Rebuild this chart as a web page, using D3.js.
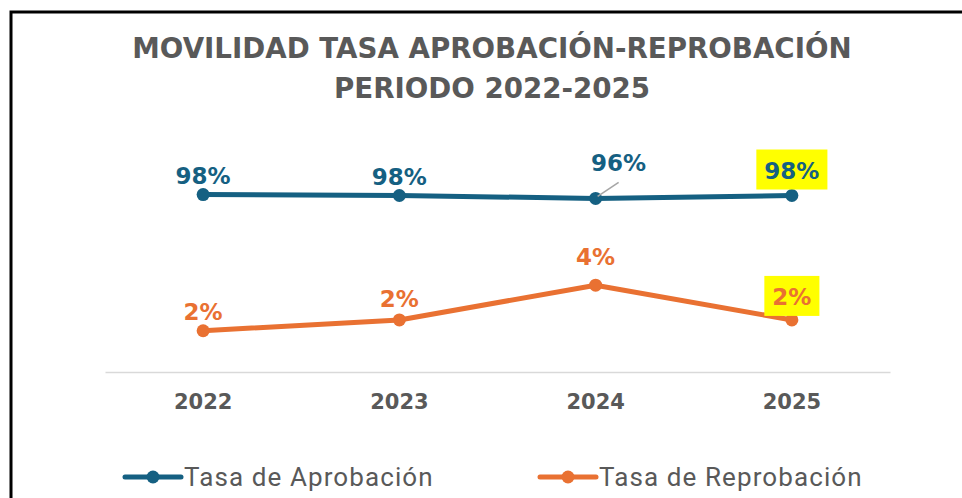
<!DOCTYPE html>
<html>
<head>
<meta charset="utf-8">
<script src="https://cdn.jsdelivr.net/npm/d3@7"></script>
<style>
  html, body { margin: 0; padding: 0; background: #fff; overflow: hidden; }
</style>
</head>
<body>
<svg id="chart" width="962" height="498"></svg>
<script>
// DATA
const years = ["2022", "2023", "2024", "2025"];
const aprobacion = [0.981, 0.976, 0.960, 0.976];
const reprobacion = [0.019, 0.024, 0.040, 0.024];
const titleLines = ["MOVILIDAD TASA APROBACIÓN-REPROBACIÓN", "PERIODO 2022-2025"];
const seriesNames = ["Tasa de Aprobación", "Tasa de Reprobación"];
// labels that were moved by hand in the original
const labelNudge = { "Tasa de Aprobación-2024": [23, -27], "Tasa de Aprobación-2025": [0, -17],
                     "Tasa de Reprobación-2023": [0, -13], "Tasa de Reprobación-2024": [0, -20],
                     "Tasa de Reprobación-2025": [0, -15] };
const highlighted = ["2025"];

const BLUE = "#156082", ORANGE = "#e97132", GREY = "#595959";

var svg = d3.select("#chart"),
  width = +svg.attr("width"),
  height = +svg.attr("height"),
  margin = { top: 155, right: 72, bottom: 126, left: 105 };

// outer frame (cut off at right and bottom, as in the screenshot)
svg.append("rect")
  .attr("x", 11).attr("y", 12)
  .attr("width", width + 20).attr("height", height + 20)
  .attr("fill", "none").attr("stroke", "#000").attr("stroke-width", 3);

var title = svg.append("text")
  .attr("text-anchor", "middle")
  .style("font-family", "DejaVu Sans")
  .style("font-weight", "bold")
  .style("font-size", "27.7px")
  .attr("fill", GREY);
title.selectAll("tspan").data(titleLines).enter().append("tspan")
  .attr("x", 492)
  .attr("y", function (d, i) { return 58 + i * 40; })
  .text(function (d) { return d; });

var x = d3.scaleBand().domain(years).range([margin.left, width - margin.right]);
var yA = d3.scaleLinear().domain([0, 1.2]).range([height - margin.bottom, margin.top]);
var yR = d3.scaleLinear().domain([0, 0.10]).range([height - margin.bottom, margin.top]);
var cx = function (d) { return x(d) + x.bandwidth() / 2; };

// x axis
var xAxis = svg.append("g")
  .attr("transform", "translate(0," + (height - margin.bottom) + ")")
  .call(d3.axisBottom(x).tickSize(0).tickPadding(22));
xAxis.select(".domain").attr("stroke", "#d9d9d9").attr("stroke-width", 1.5);
xAxis.selectAll("text")
  .style("font-family", "DejaVu Sans")
  .style("font-weight", "bold")
  .style("font-size", "21px")
  .attr("fill", GREY);

var series = [
  { name: seriesNames[0], values: aprobacion, y: yA, color: BLUE },
  { name: seriesNames[1], values: reprobacion, y: yR, color: ORANGE }
];

var fmt = d3.format(".0%");

series.forEach(function (s) {
  var pts = years.map(function (yr, i) { return { year: yr, v: s.values[i] }; });
  var line = d3.line()
    .x(function (d) { return cx(d.year); })
    .y(function (d) { return s.y(d.v); });

  svg.append("path").datum(pts)
    .attr("fill", "none").attr("stroke", s.color)
    .attr("stroke-width", 5).attr("stroke-linejoin", "round")
    .attr("d", line);

  svg.append("g").selectAll("circle").data(pts).enter().append("circle")
    .attr("cx", function (d) { return cx(d.year); })
    .attr("cy", function (d) { return s.y(d.v); })
    .attr("r", 6.5)
    .attr("fill", s.color);

  var lab = svg.append("g").selectAll("g").data(pts).enter().append("g")
    .attr("transform", function (d) {
      var n = labelNudge[s.name + "-" + d.year] || [0, -11];
      return "translate(" + (cx(d.year) + n[0]) + "," + (s.y(d.v) + n[1]) + ")";
    });

  lab.append("text")
    .attr("text-anchor", "middle")
    .style("font-family", "DejaVu Sans")
    .style("font-weight", "bold")
    .style("font-size", "23px")
    .attr("fill", s.color)
    .text(function (d) { return fmt(d.v); });

  // yellow highlight behind chosen labels
  lab.filter(function (d) { return highlighted.indexOf(d.year) >= 0; })
    .each(function () {
      var g = d3.select(this);
      var bb = g.select("text").node().getBBox();
      g.insert("rect", "text")
        .attr("x", bb.x - 8).attr("y", bb.y - 8)
        .attr("width", bb.width + 16).attr("height", bb.height + 14)
        .attr("fill", "#ffff00");
    });

  // leader line for labels that were pulled away
  pts.forEach(function (d) {
    var n = labelNudge[s.name + "-" + d.year];
    if (n && Math.abs(n[0]) > 10) {
      svg.append("line")
        .attr("x1", cx(d.year) + 2).attr("y1", s.y(d.v) - 2)
        .attr("x2", cx(d.year) + n[0]).attr("y2", s.y(d.v) + n[1] + 11)
        .attr("stroke", "#a6a6a6").attr("stroke-width", 1.5);
    }
  });
});

// legend
var legendX = [125, 540];
var legend = svg.append("g").selectAll("g").data(series).enter().append("g")
  .attr("transform", function (d, i) { return "translate(" + legendX[i] + ",477)"; });
legend.append("line")
  .attr("x1", 0).attr("x2", 56)
  .attr("stroke", function (d) { return d.color; })
  .attr("stroke-width", 5).attr("stroke-linecap", "round");
legend.append("circle")
  .attr("cx", 28).attr("r", 6.5)
  .attr("fill", function (d) { return d.color; });
legend.append("text")
  .attr("x", 59).attr("y", 9)
  .style("font-family", "Roboto")
  .style("font-size", "26px")
  .style("letter-spacing", "1.1px")
  .attr("fill", GREY)
  .text(function (d) { return d.name; });
</script>
</body>
</html>
